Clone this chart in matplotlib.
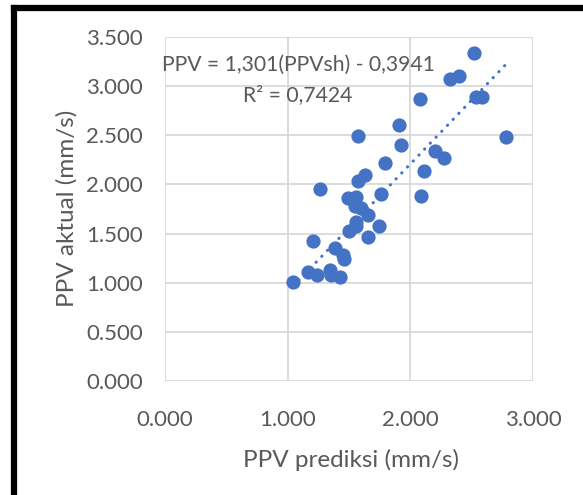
import matplotlib
matplotlib.use("Agg")
import matplotlib.pyplot as plt
import numpy as np
from matplotlib.lines import Line2D

plt.rcParams['font.family'] = ['Lato', 'DejaVu Sans']

ppv_prediksi = [2.515, 2.393, 2.325, 2.081, 2.539, 2.588, 1.905, 1.577, 2.780, 1.924,
                2.200, 2.276, 1.797, 2.108, 1.632, 1.572, 1.263, 1.764, 2.089, 1.490,
                1.558, 1.545, 1.599, 1.653, 1.558, 1.560, 1.504, 1.748, 1.653, 1.206,
                1.382, 1.450, 1.460, 1.345, 1.355, 1.423, 1.165, 1.240, 1.045]
ppv_aktual = [3.334, 3.100, 3.070, 2.868, 2.892, 2.892, 2.600, 2.492, 2.485, 2.400,
              2.340, 2.272, 2.215, 2.138, 2.100, 2.035, 1.950, 1.905, 1.882, 1.862,
              1.875, 1.785, 1.757, 1.689, 1.620, 1.575, 1.525, 1.582, 1.462, 1.425,
              1.350, 1.282, 1.240, 1.130, 1.075, 1.058, 1.105, 1.082, 1.005]

slope = 1.301
intercept = -0.3941
eq_text = "PPV = 1,301(PPVsh) - 0,3941"
r2_text = "R² = 0,7424"

xticks = [0, 1, 2, 3]
yticks = [0, 0.5, 1.0, 1.5, 2.0, 2.5, 3.0, 3.5]

W, H = 583, 495
fig = plt.figure(figsize=(W / 100, H / 100), dpi=100)
ax = fig.add_axes([165 / W, 1 - 381 / H, (533 - 165) / W, (381 - 37) / H])

blue = '#4472C4'
text_col = '#595959'
grid_col = '#D9D9D9'

ax.scatter(ppv_prediksi, ppv_aktual, s=105, color=blue, zorder=3, linewidths=0)

xs = np.array([min(ppv_prediksi), max(ppv_prediksi)])
ax.plot(xs, slope * xs + intercept, color=blue, lw=2.2, linestyle=(0, (0.1, 2.6)),
        dash_capstyle='round', zorder=4)

ax.set_xlim(0, 3)
ax.set_ylim(0, 3.5)
ax.set_xticks(xticks)
ax.set_yticks(yticks)
ax.set_xticklabels([f"{v:.3f}" for v in xticks])
ax.set_yticklabels([f"{v:.3f}" for v in yticks])
ax.grid(True, color=grid_col, lw=1.3, zorder=0)
ax.set_axisbelow(True)
for sp in ax.spines.values():
    sp.set_visible(False)
ax.tick_params(length=0, labelsize=16, colors=text_col)
ax.tick_params(axis='x', pad=21)
ax.tick_params(axis='y', pad=16)

fig.text(351 / W, 1 - 460 / H, "PPV prediksi (mm/s)", ha='center', va='center',
         fontsize=17.5, color=text_col)
fig.text(67 / W, 1 - 208 / H, "PPV aktual (mm/s)", ha='center', va='center',
         rotation=90, fontsize=17.5, color=text_col)

fig.text(298 / W, 1 - 65 / H, eq_text, ha='center', va='center', fontsize=15.2, color=text_col)
fig.text(298 / W, 1 - 95 / H, r2_text, ha='center', va='center', fontsize=15.2, color=text_col)

# outer black frame (left and top edges visible)
fig.add_artist(Line2D([14 / W, 14 / W], [0, 1 - 8 / H], color='black', lw=4.5,
                      transform=fig.transFigure, solid_capstyle='projecting'))
fig.add_artist(Line2D([14 / W, 1], [1 - 8 / H, 1 - 8 / H], color='black', lw=4.5,
                      transform=fig.transFigure, solid_capstyle='projecting'))

fig.savefig("out.png", dpi=100)
